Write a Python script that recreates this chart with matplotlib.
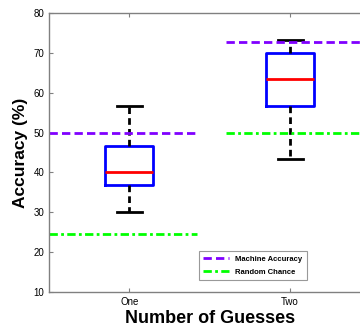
import matplotlib
matplotlib.use('Agg')
import matplotlib.pyplot as plt

plt.rcParams['font.family'] = ['Liberation Sans', 'DejaVu Sans']

# box stats
groups = ['One', 'Two']
whislo = [30.0, 43.3]
q1 = [36.8, 56.7]
med = [40.0, 63.4]
q3 = [46.7, 70.0]
whishi = [56.7, 73.2]

machine_acc = [50.0, 72.7]
random_chance = [24.5, 49.8]

fig = plt.figure(figsize=(3.6, 3.28), dpi=100)
ax = fig.add_axes([49/360, 36/328, 321.5/360, 279/328])

stats = [dict(label=g, whislo=a, q1=b, med=c, q3=d, whishi=e)
         for g, a, b, c, d, e in zip(groups, whislo, q1, med, q3, whishi)]
ax.bxp(stats, positions=[1, 2], widths=0.3, showfliers=False,
       boxprops=dict(color='#0000ff', linewidth=2),
       medianprops=dict(color='#ff0000', linewidth=2),
       whiskerprops=dict(color='black', linewidth=2, linestyle=(0, (2.4, 1.5))),
       capprops=dict(color='black', linewidth=2),
       capwidths=0.155)

spans = [(0.5, 1.42), (1.6, 2.56)]
for i, (x0, x1) in enumerate(spans):
    ax.plot([x0, x1], [machine_acc[i]] * 2, color='#8000ff', lw=2,
            linestyle=(0, (3, 1.5)), label='Machine Accuracy' if i == 0 else None)
for i, (x0, x1) in enumerate(spans):
    ax.plot([x0, x1], [random_chance[i]] * 2, color='#00ff00', lw=2,
            linestyle=(0, (3, 1.2, 1, 1.2)), label='Random Chance' if i == 0 else None)

ax.set_xlim(0.5, 2.5)
ax.set_ylim(10, 80)
ax.set_yticks(range(10, 81, 10))
ax.set_xticks([1, 2])
ax.set_xticklabels(groups)
ax.tick_params(direction='in', length=3, width=0.8, color='#808080',
               labelsize=7, top=True, right=True)
for s in ax.spines.values():
    s.set_color('#808080')
    s.set_linewidth(1)

ax.set_xlabel('Number of Guesses', fontsize=13, fontweight='bold', labelpad=2)
ax.set_ylabel('Accuracy (%)', fontsize=12.5, fontweight='bold', labelpad=4)

leg = ax.legend(loc='lower left', bbox_to_anchor=(150/321.5, 12/279), fontsize=5.5,
                frameon=True, fancybox=False, handlelength=3.4, borderpad=0.55,
                labelspacing=0.75, handletextpad=0.8, borderaxespad=0)
leg.get_frame().set_edgecolor('#808080')
leg.get_frame().set_linewidth(0.8)
for t in leg.get_texts():
    t.set_fontweight('bold')

fig.savefig('out.png', dpi=100)
